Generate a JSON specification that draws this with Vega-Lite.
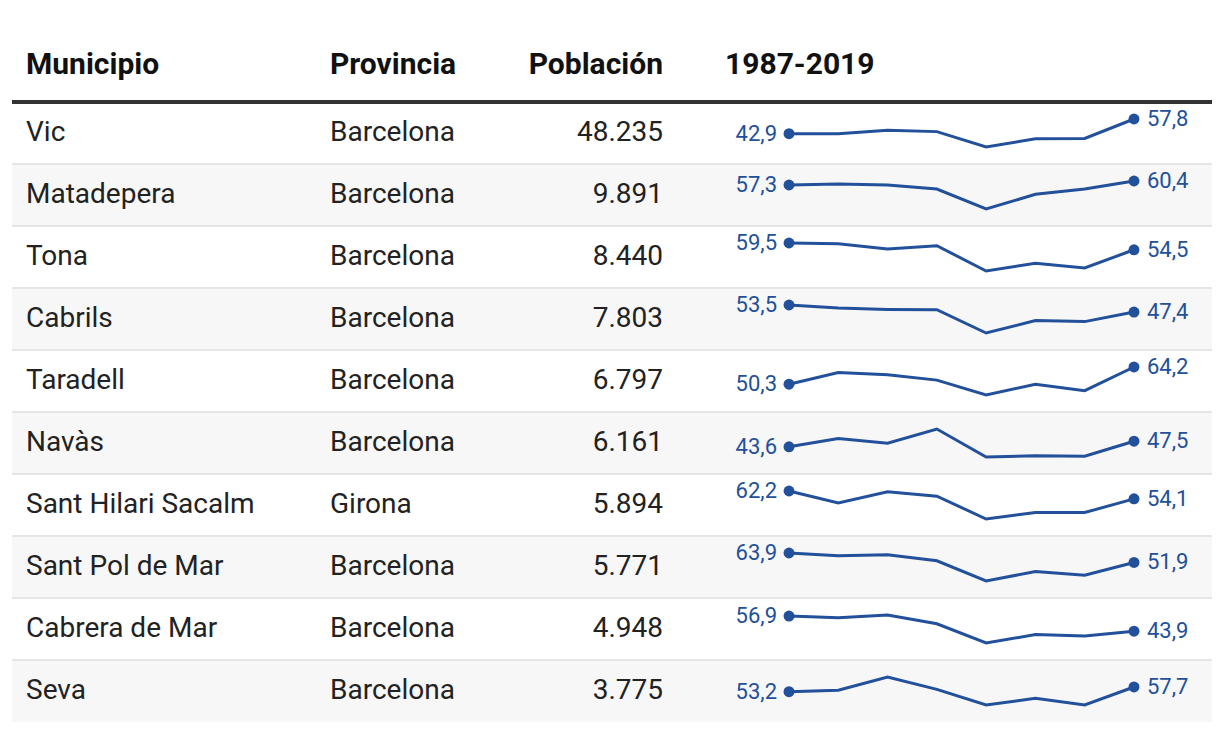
{
  "$schema": "https://vega.github.io/schema/vega-lite/v6.json",
  "background": "#ffffff",
  "padding": {"left": 10, "right": 10, "top": 50, "bottom": 10},
  "datasets": {
    "tabla": [
      {"Municipio": "Vic", "Provincia": "Barcelona", "Poblacion": 48235},
      {"Municipio": "Matadepera", "Provincia": "Barcelona", "Poblacion": 9891},
      {"Municipio": "Tona", "Provincia": "Barcelona", "Poblacion": 8440},
      {"Municipio": "Cabrils", "Provincia": "Barcelona", "Poblacion": 7803},
      {"Municipio": "Taradell", "Provincia": "Barcelona", "Poblacion": 6797},
      {"Municipio": "Navàs", "Provincia": "Barcelona", "Poblacion": 6161},
      {"Municipio": "Sant Hilari Sacalm", "Provincia": "Girona", "Poblacion": 5894},
      {"Municipio": "Sant Pol de Mar", "Provincia": "Barcelona", "Poblacion": 5771},
      {"Municipio": "Cabrera de Mar", "Provincia": "Barcelona", "Poblacion": 4948},
      {"Municipio": "Seva", "Provincia": "Barcelona", "Poblacion": 3775}
    ],
    "series": [
      {"Municipio": "Vic", "n": 1, "valor": 42.9},
      {"Municipio": "Vic", "n": 2, "valor": 42.9},
      {"Municipio": "Vic", "n": 3, "valor": 46.4},
      {"Municipio": "Vic", "n": 4, "valor": 45.0},
      {"Municipio": "Vic", "n": 5, "valor": 29.4},
      {"Municipio": "Vic", "n": 6, "valor": 37.7},
      {"Municipio": "Vic", "n": 7, "valor": 38.1},
      {"Municipio": "Vic", "n": 8, "valor": 57.8},
      {"Municipio": "Matadepera", "n": 1, "valor": 57.3},
      {"Municipio": "Matadepera", "n": 2, "valor": 58.1},
      {"Municipio": "Matadepera", "n": 3, "valor": 57.3},
      {"Municipio": "Matadepera", "n": 4, "valor": 54.2},
      {"Municipio": "Matadepera", "n": 5, "valor": 38.7},
      {"Municipio": "Matadepera", "n": 6, "valor": 50.1},
      {"Municipio": "Matadepera", "n": 7, "valor": 54.2},
      {"Municipio": "Matadepera", "n": 8, "valor": 60.4},
      {"Municipio": "Tona", "n": 1, "valor": 59.5},
      {"Municipio": "Tona", "n": 2, "valor": 59.0},
      {"Municipio": "Tona", "n": 3, "valor": 55.0},
      {"Municipio": "Tona", "n": 4, "valor": 57.5},
      {"Municipio": "Tona", "n": 5, "valor": 38.8},
      {"Municipio": "Tona", "n": 6, "valor": 44.5},
      {"Municipio": "Tona", "n": 7, "valor": 41.0},
      {"Municipio": "Tona", "n": 8, "valor": 54.5},
      {"Municipio": "Cabrils", "n": 1, "valor": 53.5},
      {"Municipio": "Cabrils", "n": 2, "valor": 50.9},
      {"Municipio": "Cabrils", "n": 3, "valor": 49.7},
      {"Municipio": "Cabrils", "n": 4, "valor": 49.4},
      {"Municipio": "Cabrils", "n": 5, "valor": 29.4},
      {"Municipio": "Cabrils", "n": 6, "valor": 40.1},
      {"Municipio": "Cabrils", "n": 7, "valor": 39.2},
      {"Municipio": "Cabrils", "n": 8, "valor": 47.4},
      {"Municipio": "Taradell", "n": 1, "valor": 50.3},
      {"Municipio": "Taradell", "n": 2, "valor": 59.8},
      {"Municipio": "Taradell", "n": 3, "valor": 57.9},
      {"Municipio": "Taradell", "n": 4, "valor": 53.6},
      {"Municipio": "Taradell", "n": 5, "valor": 41.6},
      {"Municipio": "Taradell", "n": 6, "valor": 50.3},
      {"Municipio": "Taradell", "n": 7, "valor": 45.1},
      {"Municipio": "Taradell", "n": 8, "valor": 64.2},
      {"Municipio": "Navàs", "n": 1, "valor": 43.6},
      {"Municipio": "Navàs", "n": 2, "valor": 49.3},
      {"Municipio": "Navàs", "n": 3, "valor": 46.1},
      {"Municipio": "Navàs", "n": 4, "valor": 56.0},
      {"Municipio": "Navàs", "n": 5, "valor": 36.5},
      {"Municipio": "Navàs", "n": 6, "valor": 37.4},
      {"Municipio": "Navàs", "n": 7, "valor": 37.0},
      {"Municipio": "Navàs", "n": 8, "valor": 47.5},
      {"Municipio": "Sant Hilari Sacalm", "n": 1, "valor": 62.2},
      {"Municipio": "Sant Hilari Sacalm", "n": 2, "valor": 49.9},
      {"Municipio": "Sant Hilari Sacalm", "n": 3, "valor": 61.5},
      {"Municipio": "Sant Hilari Sacalm", "n": 4, "valor": 56.9},
      {"Municipio": "Sant Hilari Sacalm", "n": 5, "valor": 33.3},
      {"Municipio": "Sant Hilari Sacalm", "n": 6, "valor": 40.0},
      {"Municipio": "Sant Hilari Sacalm", "n": 7, "valor": 40.0},
      {"Municipio": "Sant Hilari Sacalm", "n": 8, "valor": 54.1},
      {"Municipio": "Sant Pol de Mar", "n": 1, "valor": 63.9},
      {"Municipio": "Sant Pol de Mar", "n": 2, "valor": 60.5},
      {"Municipio": "Sant Pol de Mar", "n": 3, "valor": 61.8},
      {"Municipio": "Sant Pol de Mar", "n": 4, "valor": 54.0},
      {"Municipio": "Sant Pol de Mar", "n": 5, "valor": 28.3},
      {"Municipio": "Sant Pol de Mar", "n": 6, "valor": 40.3},
      {"Municipio": "Sant Pol de Mar", "n": 7, "valor": 35.6},
      {"Municipio": "Sant Pol de Mar", "n": 8, "valor": 51.9},
      {"Municipio": "Cabrera de Mar", "n": 1, "valor": 56.9},
      {"Municipio": "Cabrera de Mar", "n": 2, "valor": 55.5},
      {"Municipio": "Cabrera de Mar", "n": 3, "valor": 57.8},
      {"Municipio": "Cabrera de Mar", "n": 4, "valor": 50.3},
      {"Municipio": "Cabrera de Mar", "n": 5, "valor": 33.8},
      {"Municipio": "Cabrera de Mar", "n": 6, "valor": 41.0},
      {"Municipio": "Cabrera de Mar", "n": 7, "valor": 39.8},
      {"Municipio": "Cabrera de Mar", "n": 8, "valor": 43.9},
      {"Municipio": "Seva", "n": 1, "valor": 53.2},
      {"Municipio": "Seva", "n": 2, "valor": 54.5},
      {"Municipio": "Seva", "n": 3, "valor": 67.3},
      {"Municipio": "Seva", "n": 4, "valor": 55.4},
      {"Municipio": "Seva", "n": 5, "valor": 40.4},
      {"Municipio": "Seva", "n": 6, "valor": 46.8},
      {"Municipio": "Seva", "n": 7, "valor": 40.4},
      {"Municipio": "Seva", "n": 8, "valor": 57.7}
    ]
  },
  "spacing": 0,
  "bounds": "flush",
  "hconcat": [
    {
      "width": 304, "height": 620,
      "data": {"name": "tabla"},
      "title": {"text": "Municipio", "anchor": "start", "frame": "group", "dx": 14},
      "layer": [
        {"mark": {"type": "rect"},
         "encoding": {
           "y": {"field": "Municipio", "type": "nominal", "sort": null, "axis": null, "scale": {"type": "band", "paddingInner": 0, "paddingOuter": 0}},
           "fill": {"field": "Municipio", "type": "nominal", "sort": null, "scale": {"range": ["#ffffff", "#f7f7f7"]}, "legend": null}}},
        {"mark": {"type": "rule"},
         "encoding": {
           "y": {"field": "Municipio", "type": "nominal", "sort": null, "axis": null, "bandPosition": 0},
           "color": {"condition": {"test": "datum.Municipio === 'Vic'", "value": "#333333"}, "value": "#e6e6e6"},
           "strokeWidth": {"condition": {"test": "datum.Municipio === 'Vic'", "value": 4}, "value": 2}}},
        {"mark": {"type": "text", "align": "left", "baseline": "middle", "fontSize": 28, "color": "#222222"},
         "encoding": {
           "y": {"field": "Municipio", "type": "nominal", "sort": null, "axis": null},
           "x": {"value": 14},
           "text": {"field": "Municipio", "type": "nominal"}}}
      ]
    },
    {
      "width": 190, "height": 620,
      "data": {"name": "tabla"},
      "title": {"text": "Provincia", "anchor": "start", "frame": "group", "dx": 14},
      "layer": [
        {"mark": {"type": "rect"},
         "encoding": {
           "y": {"field": "Municipio", "type": "nominal", "sort": null, "axis": null, "scale": {"type": "band", "paddingInner": 0, "paddingOuter": 0}},
           "fill": {"field": "Municipio", "type": "nominal", "sort": null, "scale": {"range": ["#ffffff", "#f7f7f7"]}, "legend": null}}},
        {"mark": {"type": "rule"},
         "encoding": {
           "y": {"field": "Municipio", "type": "nominal", "sort": null, "axis": null, "bandPosition": 0},
           "color": {"condition": {"test": "datum.Municipio === 'Vic'", "value": "#333333"}, "value": "#e6e6e6"},
           "strokeWidth": {"condition": {"test": "datum.Municipio === 'Vic'", "value": 4}, "value": 2}}},
        {"mark": {"type": "text", "align": "left", "baseline": "middle", "fontSize": 28, "color": "#222222"},
         "encoding": {
           "y": {"field": "Municipio", "type": "nominal", "sort": null, "axis": null},
           "x": {"value": 14},
           "text": {"field": "Provincia", "type": "nominal"}}}
      ]
    },
    {
      "width": 157, "height": 620,
      "data": {"name": "tabla"},
      "title": {"text": "Población", "anchor": "end", "frame": "group", "dx": 0},
      "layer": [
        {"mark": {"type": "rect"},
         "encoding": {
           "y": {"field": "Municipio", "type": "nominal", "sort": null, "axis": null, "scale": {"type": "band", "paddingInner": 0, "paddingOuter": 0}},
           "fill": {"field": "Municipio", "type": "nominal", "sort": null, "scale": {"range": ["#ffffff", "#f7f7f7"]}, "legend": null}}},
        {"mark": {"type": "rule"},
         "encoding": {
           "y": {"field": "Municipio", "type": "nominal", "sort": null, "axis": null, "bandPosition": 0},
           "color": {"condition": {"test": "datum.Municipio === 'Vic'", "value": "#333333"}, "value": "#e6e6e6"},
           "strokeWidth": {"condition": {"test": "datum.Municipio === 'Vic'", "value": 4}, "value": 2}}},
        {"mark": {"type": "text", "align": "right", "baseline": "middle", "fontSize": 28, "color": "#222222"},
         "encoding": {
           "y": {"field": "Municipio", "type": "nominal", "sort": null, "axis": null},
           "x": {"value": 157},
           "text": {"field": "Poblacion", "type": "quantitative", "format": ",d"}}}
      ]
    },
    {
      "data": {"name": "series"},
      "title": {"text": "1987-2019", "anchor": "start", "frame": "group", "dx": 62},
      "facet": {"row": {"field": "Municipio", "type": "nominal", "header": null,
        "sort": ["Vic", "Matadepera", "Tona", "Cabrils", "Taradell", "Navàs", "Sant Hilari Sacalm", "Sant Pol de Mar", "Cabrera de Mar", "Seva"]}},
      "spacing": 0,
      "bounds": "flush",
      "spec": {
        "width": 549, "height": 62,
        "layer": [
          {"mark": {"type": "rect"},
           "encoding": {
             "y": {"field": "Municipio", "type": "nominal", "axis": null, "scale": {"type": "band", "paddingInner": 0, "paddingOuter": 0}},
             "fill": {"field": "Municipio", "type": "nominal", "sort": null, "scale": {"range": ["#ffffff", "#f7f7f7"]}, "legend": null}}},
          {"mark": {"type": "rule"},
           "encoding": {
             "y": {"field": "Municipio", "type": "nominal", "axis": null, "bandPosition": 0, "scale": {"type": "band", "paddingInner": 0, "paddingOuter": 0}},
             "color": {"condition": {"test": "datum.Municipio === 'Vic'", "value": "#333333"}, "value": "#e6e6e6"},
             "strokeWidth": {"condition": {"test": "datum.Municipio === 'Vic'", "value": 4}, "value": 2}}},
          {
            "encoding": {
              "x": {"field": "n", "type": "quantitative", "axis": null, "scale": {"domain": [-1.557, 9.583], "zero": false, "nice": false}},
              "y": {"field": "valor", "type": "quantitative", "axis": null, "scale": {"zero": false, "nice": false, "padding": 17}}
            },
            "layer": [
              {"mark": {"type": "line", "color": "#22509a", "strokeWidth": 3}},
              {"transform": [{"filter": "datum.n === 1 || datum.n === 8"}],
               "mark": {"type": "circle", "color": "#22509a", "opacity": 1, "size": 120}},
              {"transform": [{"filter": "datum.n === 1"}],
               "mark": {"type": "text", "align": "right", "baseline": "middle", "dx": -12, "fontSize": 22, "color": "#22509a"},
               "encoding": {"text": {"field": "valor", "type": "quantitative", "format": ".1f"}}},
              {"transform": [{"filter": "datum.n === 8"}],
               "mark": {"type": "text", "align": "left", "baseline": "middle", "dx": 13, "fontSize": 22, "color": "#22509a"},
               "encoding": {"text": {"field": "valor", "type": "quantitative", "format": ".1f"}}}
            ]
          }
        ],
        "resolve": {"scale": {"y": "independent"}}
      },
      "resolve": {"scale": {"y": "independent"}}
    }
  ],
  "config": {
    "font": "Roboto",
    "view": {"stroke": null},
    "locale": {"number": {"decimal": ",", "thousands": ".", "grouping": [3], "currency": ["", " €"]}},
    "title": {"fontSize": 30, "fontWeight": "bold", "color": "#111111", "font": "Roboto", "offset": 20}
  }
}
